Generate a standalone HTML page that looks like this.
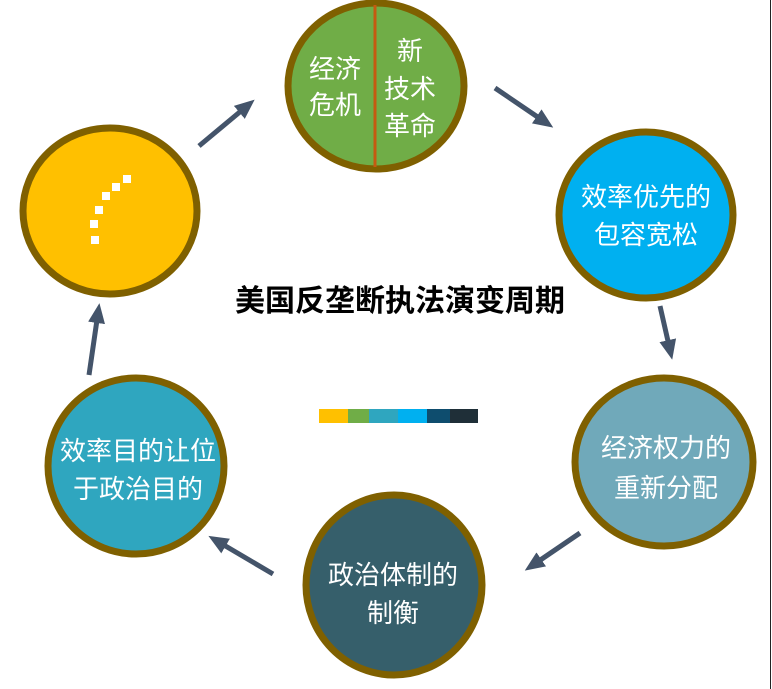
<!DOCTYPE html>
<html><head><meta charset="utf-8"><style>
body{margin:0;background:#fff;width:772px;height:689px;overflow:hidden}
svg{display:block}
text{font-family:"Liberation Sans","Noto Sans CJK SC",sans-serif;fill:#fff;font-size:26px;text-anchor:middle}
</style></head><body>
<svg width="772" height="689" viewBox="0 0 772 689">
<defs><marker id="a" markerWidth="4" markerHeight="4" refX="2" refY="2" orient="auto" markerUnits="strokeWidth"><path d="M0,0.3 L4,2 L0,3.7 z" fill="#44546a"/></marker></defs>
<line x1="770.5" y1="0" x2="770.5" y2="689" stroke="#222" stroke-width="1"/>
<g stroke="#7f6000" stroke-width="7">
<ellipse cx="376" cy="86" rx="88" ry="83" fill="#70ad47"/>
<ellipse cx="110" cy="211" rx="87" ry="83" fill="#ffc000"/>
<ellipse cx="646" cy="215" rx="87" ry="83" fill="#00b0f0"/>
<ellipse cx="664" cy="462" rx="89" ry="84" fill="#70a9ba"/>
<ellipse cx="394" cy="585" rx="88" ry="90" fill="#365f6b"/>
<ellipse cx="136" cy="466" rx="88" ry="88" fill="#2fa6bf"/>
</g>
<line x1="375" y1="5" x2="375" y2="167" stroke="#c55a11" stroke-width="3"/>
<g stroke="#44546a" stroke-width="5" marker-end="url(#a)">
<line x1="199" y1="146" x2="247" y2="106"/>
<line x1="495" y1="88" x2="545" y2="122"/>
<line x1="660" y1="306" x2="670" y2="350"/>
<line x1="580" y1="533" x2="533" y2="565"/>
<line x1="273" y1="574" x2="217" y2="541"/>
<line x1="89" y1="375" x2="98" y2="313"/>
</g>
<g fill="#fff">
<rect x="123" y="175" width="8" height="8"/><rect x="112" y="183" width="8" height="8"/><rect x="102" y="192" width="8" height="8"/>
<rect x="95" y="206" width="8" height="8"/><rect x="90" y="220" width="8" height="8"/><rect x="91" y="236" width="8" height="8"/>
</g>
<text x="335" y="78">经济</text><text x="335" y="114">危机</text>
<text x="410" y="60">新</text><text x="410" y="98">技术</text><text x="410" y="135">革命</text>
<text x="646" y="206">效率优先的</text><text x="646" y="244">包容宽松</text>
<text x="666" y="457">经济权力的</text><text x="666" y="497">重新分配</text>
<text x="393" y="584">政治体制的</text><text x="393" y="622">制衡</text>
<text x="138" y="460">效率目的让位</text><text x="138" y="498">于政治目的</text>
<text x="400" y="311" style="fill:#000;font-weight:bold;font-size:30px">美国反垄断执法演变周期</text>
<rect x="319" y="409" width="29" height="14" fill="#ffc000"/>
<rect x="348" y="409" width="21" height="14" fill="#70ad47"/>
<rect x="369" y="409" width="29" height="14" fill="#2fa6bf"/>
<rect x="398" y="409" width="29" height="14" fill="#00b0f0"/>
<rect x="427" y="409" width="23" height="14" fill="#0e4d6e"/>
<rect x="450" y="409" width="28" height="14" fill="#1f2f38"/>
</svg>
</body></html>
